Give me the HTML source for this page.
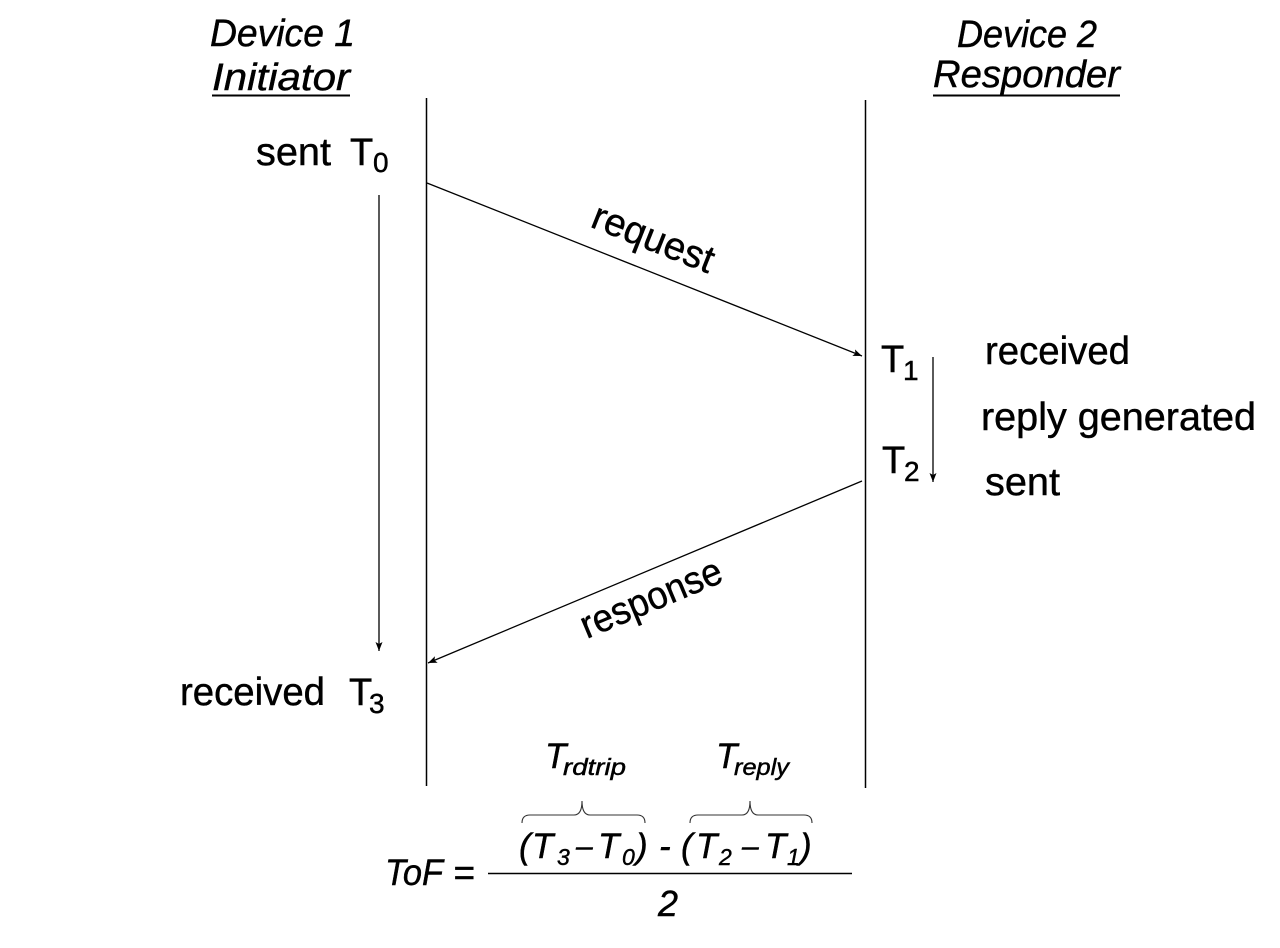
<!DOCTYPE html>
<html>
<head>
<meta charset="utf-8">
<style>
  html,body{margin:0;padding:0;background:#fff;}
  svg{display:block;}
  text{font-family:"Liberation Sans", sans-serif; fill:#000; stroke:#000; stroke-width:0.45px;}
  .it{font-style:italic;}
</style>
</head>
<body>
<svg width="1280" height="948" viewBox="0 0 1280 948" xmlns="http://www.w3.org/2000/svg">
  <defs>
    <marker id="ah" markerWidth="10" markerHeight="8" refX="9" refY="3.5" orient="auto" markerUnits="userSpaceOnUse">
      <path d="M0,0 L9,3.5 L0,7 L2,3.5 z" fill="#000"/>
    </marker>
  </defs>

  <!-- Headers -->
  <text class="it" x="210" y="46" font-size="38" textLength="145" lengthAdjust="spacingAndGlyphs">Device 1</text>
  <text class="it" x="212" y="90" font-size="38" textLength="138" lengthAdjust="spacingAndGlyphs">Initiator</text>
  <line x1="212" y1="95.5" x2="350" y2="95.5" stroke="#000" stroke-width="2"/>

  <text class="it" x="957" y="47" font-size="38" textLength="140" lengthAdjust="spacingAndGlyphs">Device 2</text>
  <text class="it" x="933" y="87" font-size="38" textLength="187" lengthAdjust="spacingAndGlyphs">Responder</text>
  <line x1="933" y1="95.5" x2="1120" y2="95.5" stroke="#000" stroke-width="2"/>

  <!-- Lifelines -->
  <line x1="426.5" y1="98" x2="426.5" y2="786" stroke="#000" stroke-width="1.5"/>
  <line x1="865.5" y1="100" x2="865.5" y2="788" stroke="#000" stroke-width="1.5"/>

  <!-- Messages -->
  <line x1="427" y1="183" x2="862" y2="356" stroke="#000" stroke-width="1.3" marker-end="url(#ah)"/>
  <line x1="862" y1="481" x2="428" y2="663" stroke="#000" stroke-width="1.3" marker-end="url(#ah)"/>

  <!-- Duration arrows -->
  <line x1="379" y1="195" x2="379" y2="651" stroke="#000" stroke-width="1.3" marker-end="url(#ah)"/>
  <line x1="933" y1="357" x2="933" y2="482" stroke="#000" stroke-width="1.3" marker-end="url(#ah)"/>

  <!-- Rotated labels -->
  <text x="648.7" y="250" font-size="39" text-anchor="middle" textLength="128" lengthAdjust="spacingAndGlyphs" transform="rotate(21.6 648.7 250)">request</text>
  <text x="656" y="610" font-size="39" text-anchor="middle" textLength="150" lengthAdjust="spacingAndGlyphs" transform="rotate(-22.7 656 610)">response</text>

  <!-- Left labels -->
  <text x="256" y="165" font-size="39" textLength="75" lengthAdjust="spacingAndGlyphs">sent</text>
  <text x="350" y="165" font-size="38">T</text>
  <text x="373" y="172" font-size="28">0</text>

  <text x="180" y="705" font-size="39" textLength="145" lengthAdjust="spacingAndGlyphs">received</text>
  <text x="349" y="705" font-size="38">T</text>
  <text x="369" y="713" font-size="28">3</text>

  <!-- Right labels -->
  <text x="881" y="372" font-size="38">T</text>
  <text x="903" y="380" font-size="28">1</text>
  <text x="882" y="473" font-size="38">T</text>
  <text x="904" y="481" font-size="28">2</text>

  <text x="985" y="364" font-size="39" textLength="145" lengthAdjust="spacingAndGlyphs">received</text>
  <text x="981" y="430" font-size="39" textLength="275" lengthAdjust="spacingAndGlyphs">reply generated</text>
  <text x="985" y="495" font-size="39" textLength="75" lengthAdjust="spacingAndGlyphs">sent</text>

  <!-- T_rdtrip / T_reply -->
  <text class="it" x="545" y="768" font-size="35">T</text>
  <text class="it" x="563" y="775" font-size="23" textLength="63" lengthAdjust="spacingAndGlyphs">rdtrip</text>
  <text class="it" x="716" y="768" font-size="35">T</text>
  <text class="it" x="734" y="775" font-size="23" textLength="55" lengthAdjust="spacingAndGlyphs">reply</text>

  <!-- Braces -->
  <path d="M522,823 Q522,815 530,815 L574,815 Q582,815 582,801 Q582,815 590,815 L637,815 Q645,815 645,823" fill="none" stroke="#333" stroke-width="1.1"/>
  <path d="M690,823 Q690,815 698,815 L742,815 Q750,815 750,801 Q750,815 758,815 L804,815 Q812,815 812,823" fill="none" stroke="#333" stroke-width="1.1"/>

  <!-- Formula -->
  <text class="it" x="385" y="885" font-size="37" textLength="58" lengthAdjust="spacingAndGlyphs">ToF</text>
  <text class="it" x="453" y="885" font-size="37">=</text>
  <line x1="488" y1="873.5" x2="852" y2="873.5" stroke="#000" stroke-width="1.5"/>

  <text class="it" x="519" y="858" font-size="35">(</text>
  <text class="it" x="532" y="858" font-size="35">T</text>
  <text class="it" x="557" y="865" font-size="23">3</text>
  <text class="it" x="576" y="856" font-size="30">–</text>
  <text class="it" x="598" y="858" font-size="35">T</text>
  <text class="it" x="622" y="865" font-size="23">0</text>
  <text class="it" x="636" y="858" font-size="35">)</text>
  <text class="it" x="659" y="858" font-size="35">-</text>
  <text class="it" x="681" y="858" font-size="35">(</text>
  <text class="it" x="696" y="858" font-size="35">T</text>
  <text class="it" x="719" y="865" font-size="23">2</text>
  <text class="it" x="742" y="856" font-size="30">–</text>
  <text class="it" x="765" y="858" font-size="35">T</text>
  <text class="it" x="787" y="865" font-size="23">1</text>
  <text class="it" x="800" y="858" font-size="35">)</text>

  <text class="it" x="658" y="916" font-size="36">2</text>
</svg>
</body>
</html>
